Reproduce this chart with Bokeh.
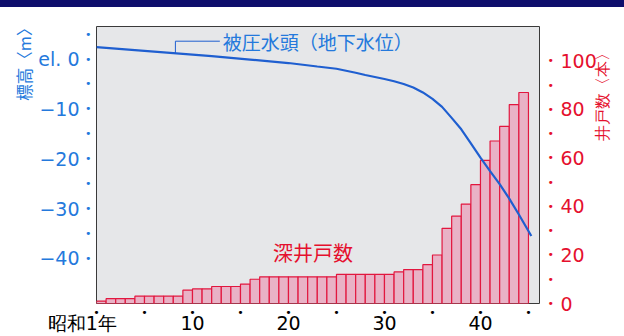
import numpy as np
from bokeh.plotting import figure
from bokeh.models import Range1d, LinearAxis, FixedTicker, Label, Div, Title
from bokeh.layouts import column
from bokeh.embed import file_html
from bokeh.resources import INLINE

# ---- data ----
years = list(range(1, 46))  # 昭和1年 .. 昭和45年
wells = [1, 2, 2, 2, 3, 3, 3, 3, 3, 5.5,
         6, 6, 7, 7, 7, 8, 10, 11, 11, 11,
         11, 11, 11, 11, 11, 12, 12, 12, 12, 12,
         12, 13, 14, 14, 16, 20, 31, 36, 41, 49,
         59, 67, 73, 82, 87]
head_years = [0, 4, 8, 12, 16, 20, 23, 25, 27, 28, 29, 30, 31, 32, 33, 34, 35, 36, 37, 38,
              39, 40, 41, 42, 43, 44, 45.3]
head_elev = [2.4, 1.8, 1.2, 0.6, -0.1, -0.8, -1.5, -1.95, -2.75, -3.2, -3.6, -4.0, -4.45,
             -5.0, -5.7, -6.7, -8.0, -9.6, -11.8, -14.1, -16.9, -19.8, -22.5, -25.1, -28.0,
             -31.2, -35.5]
left_ticks = [0, -10, -20, -30, -40]
left_labels = ["el. 0", "−10", "−20", "−30", "−40"]
right_ticks = [0, 20, 40, 60, 80, 100]
bottom_ticks = [0, 10, 20, 30, 40]
bottom_labels = ["昭和1年\u3000\u2002", "10", "20", "30", "40"]
head_label = "被圧水頭（地下水位）"
wells_label = "深井戸数"
left_title = "標高〈m〉"
right_title = "井戸数〈本〉"
right_title_at = 98  # position of the right title along the well-count axis

BLUE = "#2479dc"
LINE_BLUE = "#1f5fd0"
RED = "#e5102e"
NUM_FONT = "DejaVu Sans"
JP_FONT = "Noto Sans CJK JP"

band = Div(text="", width=624, height=7, margin=0,
           styles={"background-color": "#0e0e6c"})

p = figure(width=624, height=329, output_backend="svg", toolbar_location=None,
           x_range=Range1d(0, 46.15), y_range=Range1d(-49.05, 6.53),
           x_axis_location=None, y_axis_location=None,
           min_border_left=96, min_border_right=79, min_border_top=19, min_border_bottom=33,
           background_fill_color="#e6e7e9", border_fill_color="white",
           outline_line_color="#3a3a3a", outline_line_width=1)
p.extra_y_ranges = {"wells": Range1d(0, 114.2)}
p.xgrid.visible = False
p.ygrid.visible = False


def make_axis(ticks, labels, color, size, standoff, font, y_range_name=None):
    kw = {}
    if y_range_name:
        kw["y_range_name"] = y_range_name
    return LinearAxis(ticker=FixedTicker(ticks=ticks),
                      major_label_overrides={t: l for t, l in zip(ticks, labels)} if labels else {},
                      axis_line_color=None, major_tick_line_color=None, minor_tick_line_color=None,
                      major_tick_out=0, major_tick_in=0,
                      major_label_text_color=color, major_label_text_font_size=size,
                      major_label_text_font=font, major_label_standoff=standoff, **kw)


# left: dots then labels, then the title
ldots = list(range(5, -45, -5))
p.add_layout(make_axis(ldots, ["•"] * len(ldots), BLUE, "11px", 5, NUM_FONT), "left")
p.add_layout(make_axis(left_ticks, left_labels, BLUE, "19px", 3, NUM_FONT), "left")
p.add_layout(Title(text=left_title, align="right", text_color=BLUE, text_font=JP_FONT,
                   text_font_size="16.5px", text_font_style="normal", standoff=0, offset=-7), "left")
# right: dots, labels, and the title as a rotated label
rdots = list(range(0, 110, 10))
p.add_layout(make_axis(rdots, ["•"] * len(rdots), RED, "11px", 8, NUM_FONT, "wells"), "right")
p.add_layout(make_axis(right_ticks, None, RED, "19px", 4, NUM_FONT, "wells"), "right")
rt = make_axis([right_title_at], [right_title], RED, "16px", 3, NUM_FONT, "wells")
rt.major_label_orientation = float(np.pi / 2)
p.add_layout(rt, "right")
# bottom
bdots = list(range(0, 50, 5))
p.add_layout(make_axis(bdots, ["•"] * len(bdots), "black", "11px", 2, NUM_FONT), "below")
p.add_layout(make_axis(bottom_ticks, bottom_labels, "black", "19px", -10, NUM_FONT), "below")

# bars
left_edges = [y - 1 for y in years]
p.quad(left=left_edges, right=years, bottom=0, top=wells, y_range_name="wells",
       fill_color="#e9b2c6", line_color="#e2173f", line_width=1.2)

# head curve
p.line(head_years, head_elev, line_color=LINE_BLUE, line_width=2.2)

# leader for the head label
lead_x0, lead_x1, lead_y = 8.22, 12.85, 3.58
lead_ybot = float(np.interp(lead_x0, head_years, head_elev))
p.line([lead_x0, lead_x0, lead_x1], [lead_ybot, lead_y, lead_y], line_color=LINE_BLUE, line_width=1)
p.add_layout(Label(x=13.16, y=lead_y, text=head_label, text_align="left", text_baseline="middle",
                   text_color=BLUE, text_font_size="19px", text_font=JP_FONT))
p.add_layout(Label(x=18.4, y=-38.8, text=wells_label, text_align="left", text_baseline="middle",
                   text_color=RED, text_font_size="20px", text_font=JP_FONT))

layout = column(band, p, spacing=0)
open("out.html", "w").write(file_html(layout, INLINE))
